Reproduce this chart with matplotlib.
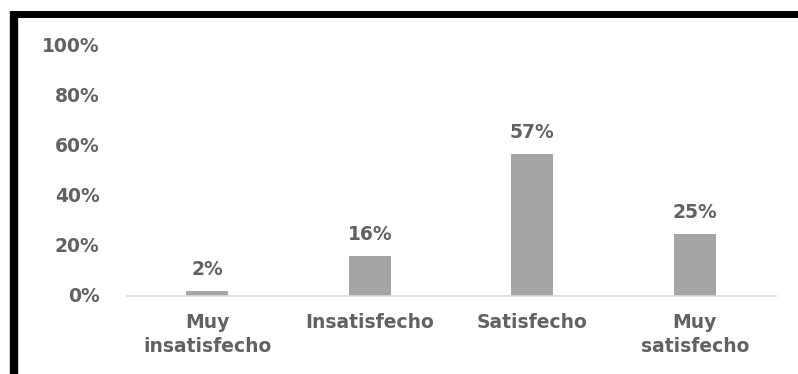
import matplotlib
matplotlib.use("Agg")
import matplotlib.pyplot as plt
from matplotlib.lines import Line2D

categories = ["Muy\ninsatisfecho", "Insatisfecho", "Satisfecho", "Muy\nsatisfecho"]
values = [2, 16, 57, 25]
yticks = [0, 20, 40, 60, 80, 100]

TEXT = "#626262"
BAR = "#a5a5a5"
FS = 13.5

plt.rcParams["font.family"] = ["DejaVu Sans"]

fig = plt.figure(figsize=(7.98, 3.74), dpi=100)
ax = fig.add_axes([126 / 798, 1 - 296 / 374, 650 / 798, 250 / 374])

x = range(len(categories))
ax.bar(x, values, width=0.26, color=BAR, zorder=2)

for xi, v in zip(x, values):
    ax.annotate(f"{v}%", (xi, v), xytext=(0, 8.5), textcoords="offset points",
                ha="center", va="bottom", fontsize=FS, fontweight="bold", color=TEXT)

ax.set_xlim(-0.5, len(categories) - 0.5)
ax.set_ylim(0, 100)
ax.set_yticks(yticks)
ax.set_yticklabels([f"{t}%" for t in yticks])
ax.set_xticks(list(x))
ax.set_xticklabels(categories, linespacing=1.35)

for s in ["top", "right", "left"]:
    ax.spines[s].set_visible(False)
ax.spines["bottom"].set_color("#d9d9d9")
ax.spines["bottom"].set_linewidth(1.2)
ax.tick_params(axis="both", length=0, labelsize=FS, labelcolor=TEXT)
ax.tick_params(axis="y", pad=19)
ax.tick_params(axis="x", pad=12)
for lbl in ax.get_yticklabels():
    lbl.set_fontweight("bold")
    lbl.set_va("center")
for lbl in ax.get_xticklabels():
    lbl.set_fontweight("bold")

# thick black frame at left and top edges
fig.add_artist(Line2D([14 / 798, 14 / 798], [0, 1 - 11 / 374], transform=fig.transFigure,
                      color="black", linewidth=6, solid_capstyle="butt"))
fig.add_artist(Line2D([11 / 798, 1], [1 - 14 / 374, 1 - 14 / 374], transform=fig.transFigure,
                      color="black", linewidth=5, solid_capstyle="butt"))

fig.savefig("out.png", dpi=100, facecolor="white")
